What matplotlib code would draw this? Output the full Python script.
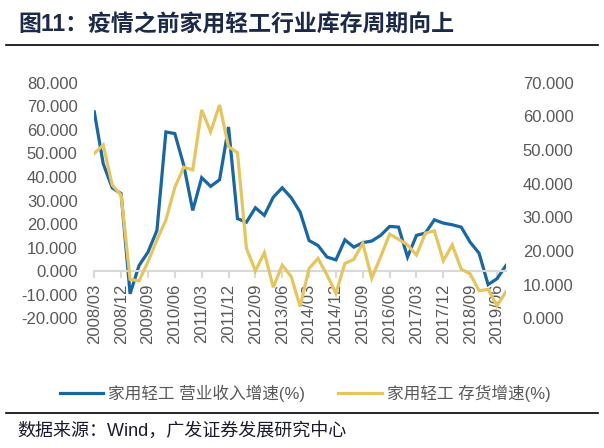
# 家用轻工：营业收入增速 vs 存货增速（季度）

import matplotlib.pyplot as plt

plt.rcParams['font.family'] = ['Liberation Sans', 'Noto Sans CJK SC', 'DejaVu Sans']

quarters = [
    '2008/03', '2008/06', '2008/09', '2008/12', '2009/03', '2009/06', '2009/09', '2009/12',
    '2010/03', '2010/06', '2010/09', '2010/12', '2011/03', '2011/06', '2011/09', '2011/12',
    '2012/03', '2012/06', '2012/09', '2012/12', '2013/03', '2013/06', '2013/09', '2013/12',
    '2014/03', '2014/06', '2014/09', '2014/12', '2015/03', '2015/06', '2015/09', '2015/12',
    '2016/03', '2016/06', '2016/09', '2016/12', '2017/03', '2017/06', '2017/09', '2017/12',
    '2018/03', '2018/06', '2018/09', '2018/12', '2019/03', '2019/06', '2019/09',
]

# 营业收入增速 (左轴)
revenue = [67.6, 45.6, 35.4, 32.9, -9.6, 2.4, 8.1, 17.3, 59.1, 58.4, 44.9, 25.8,
           39.7, 36.0, 38.8, 61.2, 22.3, 20.8, 26.9, 23.7, 31.4, 35.4, 31.2, 25.1,
           13.0, 10.9, 6.0, 4.8, 13.3, 10.2, 12.1, 12.8, 15.2, 19.0, 18.7, 6.0,
           15.2, 16.2, 21.8, 20.4, 19.7, 18.7, 12.3, 7.6, -5.7, -3.2, 2.4]

# 存货增速 (右轴)
inventory = [49.0, 51.5, 39.6, 36.6, 11.6, 11.1, 16.8, 23.3, 29.2, 38.9, 44.9, 44.1,
             61.9, 55.4, 63.4, 51.0, 49.2, 20.8, 14.1, 19.5, 9.2, 15.8, 12.4, 3.5,
             14.8, 17.8, 12.9, 7.4, 16.3, 17.5, 22.3, 11.9, 18.3, 25.0, 23.5, 21.8,
             18.8, 25.3, 26.0, 17.1, 21.8, 14.6, 13.2, 8.2, 8.6, 3.7, 7.9]

blue = '#1766A6'
yellow = '#E6C65C'
gray_txt = '#595959'

fig = plt.figure(figsize=(6.04, 4.48), dpi=100)
ax1 = fig.add_axes([0.1561, 0.2895, 0.6816, 0.5259])
ax2 = ax1.twinx()

x = list(range(len(quarters)))
l1, = ax1.plot(x, revenue, color=blue, lw=2.3, solid_joinstyle='miter')
l2, = ax2.plot(x, inventory, color=yellow, lw=2.3, solid_joinstyle='miter')

ax1.set_xlim(0, len(quarters) - 1)
ax1.set_ylim(-20, 80)
ax2.set_ylim(0, 70)
ax1.set_yticks(range(-20, 81, 10))
ax2.set_yticks(range(0, 71, 10))
ax1.set_yticklabels(['%.3f' % v for v in range(-20, 81, 10)])
ax2.set_yticklabels(['%.3f' % v for v in range(0, 71, 10)])

ax1.set_xticks(x[::3])
ax1.set_xticklabels(quarters[::3])

for a in (ax1, ax2):
    for s in ('top', 'left', 'right', 'bottom'):
        a.spines[s].set_visible(False)
ax1.spines['bottom'].set_visible(True)
ax1.spines['bottom'].set_position(('data', 0))
ax1.spines['bottom'].set_color('#D9D9D9')
ax1.spines['bottom'].set_linewidth(1.5)

ax1.tick_params(axis='x', direction='out', length=5, width=1.5, color='#D9D9D9',
                labelsize=12, labelcolor=gray_txt, pad=4, labelrotation=90)
ax1.tick_params(axis='y', length=0, labelsize=12, labelcolor=gray_txt, pad=12)
ax2.tick_params(axis='y', length=0, labelsize=12, labelcolor=gray_txt, pad=12)

fig.legend([l1, l2], ['家用轻工 营业收入增速(%)', '家用轻工 存货增速(%)'],
           loc='center', bbox_to_anchor=(0.505, 1 - 393 / 448), ncol=2, frameon=False,
           fontsize=12, labelcolor=gray_txt, handlelength=2.6, handletextpad=0.3,
           columnspacing=2.0)

# 标题和来源
fig.text(18 / 604, 1 - 25 / 448, '图11：疫情之前家用轻工行业库存周期向上', fontsize=16.5,
         fontweight='bold', color='#1C2A4A', va='center', ha='left')
fig.add_artist(plt.Line2D([6 / 604, 598 / 604], [1 - 45 / 448] * 2, color='black', lw=1.2))
fig.add_artist(plt.Line2D([6 / 604, 598 / 604], [1 - 412.7 / 448] * 2, color='black', lw=1.2))
fig.text(17 / 604, 1 - 431 / 448, '数据来源：Wind，广发证券发展研究中心', fontsize=13,
         color='#1A1A2E', va='center', ha='left')

plt.savefig('out.png', dpi=100)
